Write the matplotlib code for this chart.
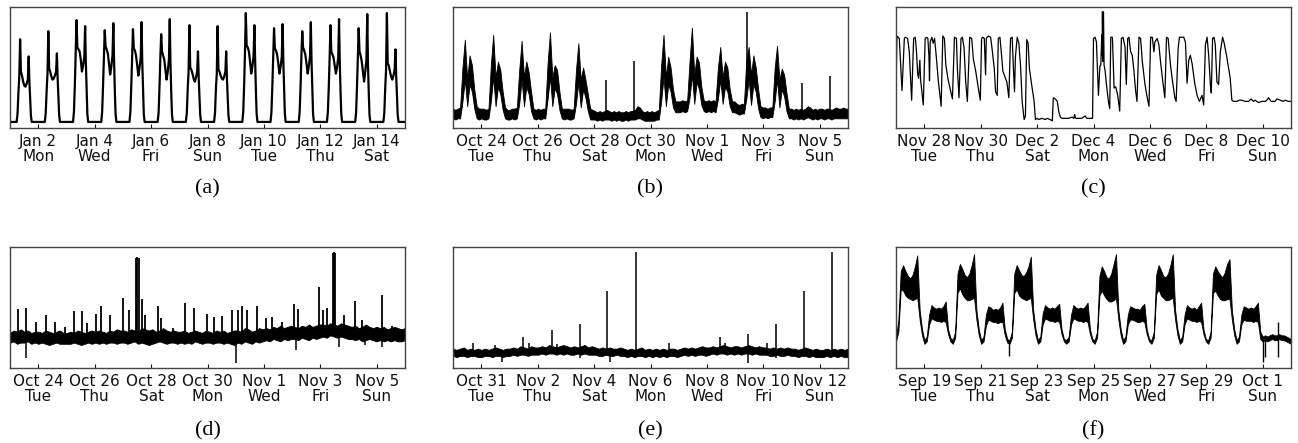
import numpy as np
import matplotlib
matplotlib.use("Agg")
import matplotlib.pyplot as plt
import matplotlib.dates as mdates
from matplotlib.ticker import FuncFormatter

# ---------------- data (0-100 = axis height) ----------------

# (a) one hump per day, knots at these hours of the day
A_START = "2017-01-01"
A_HOURS = [0, 5.6, 6.4, 7.2, 7.9, 8.6, 9.3, 10.2, 11.2, 12.2, 13.2, 14.2, 15.2, 15.9, 16.5, 17.2, 17.8, 18.5]
A_DAYS = [
    [0, 0, 8, 30, 45, 82, 50, 46, 40, 36, 35, 38, 42, 65, 40, 22, 6, 0],
    [0, 0, 9, 32, 48, 90, 53, 50, 45, 42, 43, 46, 50, 68, 44, 24, 7, 0],
    [0, 0, 10, 38, 68, 101, 74, 72, 70, 62, 50, 56, 64, 95, 60, 30, 8, 0],
    [0, 0, 10, 38, 66, 91, 75, 72, 68, 58, 47, 55, 66, 98, 62, 30, 8, 0],
    [0, 0, 10, 37, 66, 92, 73, 71, 66, 56, 46, 54, 64, 99, 60, 30, 8, 0],
    [0, 0, 9, 36, 64, 87, 70, 66, 62, 52, 42, 50, 62, 102, 58, 28, 7, 0],
    [0, 0, 9, 34, 50, 96, 54, 52, 48, 43, 40, 44, 50, 70, 44, 24, 7, 0],
    [0, 0, 9, 34, 48, 95, 52, 50, 46, 43, 42, 45, 50, 70, 44, 24, 7, 0],
    [0, 0, 10, 38, 70, 108, 76, 74, 70, 60, 48, 55, 66, 96, 62, 30, 8, 0],
    [0, 0, 10, 37, 66, 93, 73, 71, 67, 58, 48, 55, 65, 97, 60, 30, 8, 0],
    [0, 0, 10, 37, 66, 90, 74, 71, 67, 58, 48, 55, 65, 99, 60, 30, 8, 0],
    [0, 0, 10, 36, 64, 96, 70, 67, 64, 56, 48, 54, 64, 102, 60, 29, 8, 0],
    [0, 0, 9, 36, 64, 93, 70, 66, 60, 50, 40, 50, 62, 107, 58, 28, 7, 0],
    [0, 0, 9, 34, 52, 108, 58, 56, 50, 45, 42, 46, 52, 72, 46, 25, 7, 0],
]

# (b) upper / lower edge of the noisy trace, 2-hour steps
B_START = "2017-10-23"
B_HI = [
    [16, 15, 16, 17, 50, 73, 40, 60, 52, 32, 18, 16],
    [16, 16, 15, 16, 52, 77, 42, 55, 48, 30, 17, 15],
    [15, 16, 16, 17, 48, 72, 42, 55, 46, 30, 16, 15],
    [16, 15, 16, 16, 54, 79, 42, 52, 48, 30, 16, 16],
    [16, 16, 15, 16, 48, 70, 40, 50, 40, 28, 16, 15],
    [14, 13, 14, 13, 14, 15, 14, 13, 14, 13, 14, 13],
    [13, 14, 13, 14, 14, 15, 18, 17, 14, 13, 14, 13],
    [14, 13, 14, 15, 52, 77, 42, 59, 50, 32, 22, 22],
    [22, 23, 22, 23, 55, 83, 44, 59, 54, 34, 23, 22],
    [23, 22, 23, 22, 50, 67, 42, 55, 50, 32, 22, 22],
    [20, 19, 20, 20, 56, 67, 44, 60, 50, 32, 18, 17],
    [17, 16, 17, 17, 50, 68, 40, 49, 44, 29, 16, 16],
    [15, 16, 15, 16, 15, 16, 18, 17, 15, 16, 15, 16],
    [16, 15, 16, 16, 15, 16, 17, 16, 16, 17, 16, 16],
]
B_LO = [
    [8, 7, 8, 8, 22, 40, 18, 36, 30, 16, 8, 7],
    [8, 7, 7, 8, 22, 42, 18, 34, 28, 15, 8, 7],
    [7, 8, 7, 8, 20, 40, 18, 34, 28, 14, 8, 7],
    [8, 7, 8, 8, 24, 42, 18, 33, 28, 15, 8, 7],
    [8, 7, 7, 8, 20, 38, 17, 32, 25, 14, 7, 7],
    [7, 6, 7, 6, 7, 7, 7, 6, 7, 6, 7, 6],
    [6, 7, 6, 7, 7, 7, 8, 8, 7, 6, 6, 6],
    [6, 6, 7, 7, 22, 42, 18, 36, 30, 17, 13, 13],
    [13, 14, 13, 14, 25, 44, 20, 38, 32, 19, 14, 13],
    [14, 13, 14, 13, 24, 40, 20, 34, 30, 18, 13, 13],
    [12, 11, 12, 12, 24, 40, 19, 36, 30, 16, 9, 8],
    [9, 8, 9, 9, 22, 40, 17, 32, 26, 14, 8, 8],
    [7, 8, 7, 8, 7, 8, 9, 8, 7, 8, 7, 8],
    [8, 7, 8, 8, 7, 8, 8, 8, 8, 8, 8, 8],
]
B_SPIKE_T = [129.9, 153.6, 250.4, 297.0, 321.0]
B_SPIKE_V = [40, 55, 96, 37, 43]

# (c) thin trace, hours since start
C_START = "2017-11-27"
C_HOURS = [
    0.0, 0.8, 2.8, 5.1, 7.1, 7.9, 9.9, 11.3, 13.3, 15.0, 16.4, 17.5, 18.4, 19.2, 19.8, 20.3, 20.9, 23.2,
    24.8, 26.0, 27.1, 28.0, 28.5, 29.1, 30.5, 31.6, 32.8, 33.9, 36.1, 38.4, 39.8, 41.2, 42.4, 44.3, 46.6,
    48.0, 49.7, 51.4, 52.2, 53.6, 55.3, 56.5, 57.9, 59.3, 60.7, 62.7, 64.4, 65.8, 67.8, 70.0, 71.7,
    72.8, 74.0, 75.1, 76.2, 76.8, 78.5, 80.5, 81.9, 83.6, 84.7, 86.1, 87.0, 88.4, 89.8, 90.9, 93.2, 94.3,
    96.0, 97.4, 98.8, 99.9, 100.8, 101.6, 103.1, 104.5, 105.9, 107.3, 109.0, 110.1, 111.2, 112.4, 113.5, 115.8, 117.5, 118.6,
    120.0, 121.4, 124.2, 127.1, 128.5, 131.0, 133.0, 133.8, 135.5, 137.2, 138.4, 139.8, 141.2,
    144.0, 146.8, 149.6, 151.3, 151.9, 152.5, 153.0, 158.1, 160.9, 161.5, 162.4, 163.8, 166.0, 167.2,
    168.0, 169.4, 170.5, 172.2, 173.4, 174.2, 175.1, 175.4, 175.6, 175.9, 176.2, 176.5, 177.0, 177.9, 179.0,
    180.7, 181.8, 182.7, 184.1, 185.5, 186.9, 188.6, 190.3, 191.7,
    193.1, 194.8, 195.9, 197.1, 198.2, 199.6, 201.0, 202.4, 203.9, 205.0, 206.7, 208.1, 209.5, 211.8, 213.7, 215.2,
    216.6, 218.0, 219.4, 220.2, 222.2, 223.6, 225.0, 227.0, 228.7, 230.1, 231.5, 233.5, 234.9, 237.2, 238.3,
    240.0, 241.1, 244.8, 246.2, 247.6, 249.0, 250.4, 251.9, 254.1, 256.1, 258.1, 260.3, 261.7, 263.2,
    264.6, 266.0, 267.4, 268.2, 269.3, 270.5, 271.6, 273.0, 274.4, 275.9, 277.8, 279.2, 281.5, 284.3, 285.7, 287.2,
    290.0, 292.0, 294.2, 297.0, 299.9, 302.0, 304.1, 305.5, 308.3, 311.2, 314.0, 315.5, 316.8, 319.1, 322.4,
    324.0, 326.7, 329.5, 331.0, 333.7, 336.0,
]
C_VALUES = [
    31, 76, 74, 31, 74, 75, 74, 63, 23, 74, 75, 62, 45, 41, 49, 56, 40, 19,
    74, 75, 74, 60, 39, 71, 75, 70, 74, 63, 38, 18, 76, 74, 52, 40, 30,
    24, 75, 74, 49, 25, 74, 75, 66, 38, 22, 75, 74, 57, 47, 33, 23,
    74, 75, 74, 44, 74, 76, 75, 64, 49, 30, 27, 74, 75, 60, 47, 41, 38,
    25, 74, 75, 49, 30, 59, 75, 70, 52, 22, 7, 10, 73, 70, 49, 33, 22, 7,
    8, 7, 8, 7, 8, 7, 6, 25, 24, 22, 14, 9, 8,
    8, 8, 9, 8, 11, 9, 8, 8, 10, 9, 8, 8, 8, 8,
    74, 75, 71, 27, 51, 52, 77, 60, 96, 55, 92, 96, 52, 47, 36,
    22, 16, 75, 75, 33, 34, 27, 14, 74,
    75, 67, 36, 74, 75, 63, 60, 47, 30, 22, 75, 74, 55, 36, 25, 18,
    75, 75, 63, 71, 74, 69, 55, 38, 25, 75, 74, 52, 41, 25, 22,
    66, 75, 75, 71, 37, 56, 60, 53, 37, 27, 22, 27, 19, 69,
    75, 60, 36, 29, 74, 75, 69, 38, 36, 63, 75, 70, 58, 41, 23, 22,
    22, 23, 23, 22, 22, 24, 22, 23, 21, 22, 22, 23, 25, 22, 22,
    24, 23, 22, 23, 22, 22,
]

# (d) noisy band, 3-hour steps, plus short spikes
D_START = "2017-10-23"
D_HI = [
    [29, 31, 30, 32, 30, 31, 29, 30], [30, 29, 31, 30, 29, 30, 31, 29],
    [29, 30, 29, 31, 30, 29, 30, 31], [30, 31, 30, 29, 31, 30, 32, 31],
    [31, 30, 32, 31, 30, 33, 32, 31], [32, 30, 31, 33, 31, 30, 31, 30],
    [30, 31, 29, 30, 31, 30, 29, 31], [30, 29, 31, 30, 31, 29, 30, 31],
    [31, 30, 33, 32, 30, 31, 33, 32], [33, 32, 34, 33, 35, 33, 34, 35],
    [34, 33, 35, 34, 36, 34, 35, 36], [36, 35, 37, 36, 35, 37, 36, 35],
    [34, 35, 33, 34, 36, 34, 33, 34], [33, 34, 32, 33, 34, 33, 32, 33],
]
D_LO = [
    [21, 22, 20, 21, 21, 22, 20, 21], [20, 21, 20, 19, 20, 21, 20, 20],
    [20, 20, 21, 20, 19, 20, 21, 20], [21, 20, 21, 20, 21, 21, 20, 21],
    [21, 20, 21, 22, 20, 21, 20, 19], [20, 21, 22, 21, 20, 21, 21, 20],
    [21, 20, 21, 20, 22, 21, 20, 21], [21, 20, 21, 21, 20, 21, 20, 19],
    [21, 20, 22, 21, 20, 22, 21, 22], [23, 22, 24, 23, 22, 24, 23, 24],
    [24, 23, 25, 24, 23, 25, 24, 25], [26, 25, 27, 26, 25, 26, 25, 24],
    [24, 23, 24, 22, 23, 24, 23, 22], [23, 22, 23, 22, 23, 22, 22, 23],
]
D_SPIKE_T = [6.5, 13.6, 22.0, 30.5, 38.1, 46.6, 54.2, 61.6, 65.8, 72.9,
             77.6, 84.7, 96.0, 101.6, 107.3, 108.4, 109.6, 112.4, 114.9, 125.6,
             128.5, 138.4, 149.1, 156.7, 167.2, 173.7, 180.2, 189.2, 194.3, 197.7,
             201.9, 210.4, 217.4, 222.5, 231.5, 241.4, 245.1, 262.6, 266.0, 269.7,
             274.5, 275.6, 276.8, 283.8, 293.7, 299.3, 316.8, 324.7]
D_SPIKE_V = [49, 50, 38, 44, 38, 34, 47, 47, 37, 45,
             51, 44, 58, 48, 91, 92, 91, 57, 44, 51,
             41, 33, 54, 50, 45, 42, 43, 48, 48, 51,
             48, 51, 41, 42, 38, 53, 49, 67, 48, 50,
             95, 96, 95, 44, 55, 40, 60, 35]
D_DIP_T = [13.6, 192.0, 243.4, 279.6, 302.2, 316.8]
D_DIP_V = [8, 4, 15, 17, 19, 17]

# (e) flat noisy band, 3-hour steps, with isolated spikes
E_START = "2017-10-30"
E_HI = [
    [16, 15, 16, 17, 15, 16, 15, 16], [15, 16, 15, 16, 17, 16, 15, 16],
    [16, 17, 16, 18, 17, 16, 18, 17], [17, 18, 17, 19, 18, 17, 18, 19],
    [18, 17, 18, 17, 18, 19, 17, 18], [17, 16, 17, 16, 17, 16, 16, 17],
    [16, 15, 16, 15, 16, 17, 15, 16], [15, 16, 15, 16, 15, 16, 16, 15],
    [16, 17, 16, 17, 16, 17, 18, 17], [17, 18, 17, 18, 19, 18, 17, 18],
    [18, 17, 18, 19, 18, 17, 18, 17], [17, 16, 17, 16, 17, 16, 17, 16],
    [16, 15, 16, 17, 16, 15, 16, 15], [15, 16, 15, 16, 15, 16, 15, 16],
]
E_LO = [
    [10, 9, 10, 10, 9, 10, 10, 9], [9, 10, 10, 9, 10, 10, 9, 10],
    [10, 11, 10, 11, 11, 10, 11, 11], [11, 12, 11, 12, 12, 11, 12, 11],
    [12, 11, 11, 12, 11, 12, 11, 11], [11, 10, 10, 11, 10, 10, 11, 10],
    [10, 9, 10, 9, 10, 10, 9, 10], [9, 10, 9, 10, 9, 10, 10, 9],
    [10, 11, 10, 11, 10, 11, 11, 10], [11, 12, 11, 12, 12, 11, 12, 11],
    [12, 11, 12, 12, 11, 12, 11, 11], [11, 10, 10, 11, 10, 10, 11, 10],
    [10, 9, 10, 10, 9, 10, 9, 9], [9, 10, 9, 10, 9, 10, 9, 9],
]
E_SPIKE_T = [16.9, 35.9, 59.9, 64.9, 83.9, 88.7, 107.9, 131.3, 155.3, 184.1,
             227.0, 231.5, 251.0, 267.4, 274.4, 298.4, 322.4]
E_SPIKE_V = [21, 19, 26, 21, 31, 20, 36, 64, 96, 21, 26, 21, 28, 21, 36, 64, 96]
E_DIP_T = [42.1, 107.9, 133.3, 251.0, 274.4]
E_DIP_V = [5, 8, 5, 4, 8]

# (f) two-level daily pattern, 2-hour steps
F_START = "2017-09-18"
F_HI = [
    [25, 40, 80, 85, 80, 76, 74, 77, 84, 93, 48, 32],
    [23, 26, 44, 52, 50, 49, 50, 49, 51, 55, 32, 25],
    [23, 30, 78, 86, 82, 77, 75, 78, 85, 94, 48, 32],
    [23, 26, 44, 51, 50, 48, 49, 48, 50, 54, 32, 24],
    [23, 30, 78, 85, 81, 77, 76, 79, 84, 92, 48, 32],
    [23, 26, 45, 52, 50, 49, 50, 49, 51, 53, 32, 24],
    [23, 26, 44, 52, 50, 49, 50, 49, 51, 54, 32, 24],
    [23, 30, 76, 84, 80, 75, 74, 78, 86, 94, 48, 32],
    [23, 26, 44, 51, 50, 49, 49, 48, 51, 53, 32, 24],
    [23, 30, 77, 85, 81, 76, 75, 78, 85, 94, 48, 32],
    [23, 26, 44, 52, 50, 49, 50, 48, 51, 54, 32, 24],
    [23, 30, 78, 84, 80, 77, 75, 79, 86, 90, 48, 32],
    [23, 26, 44, 51, 50, 49, 50, 49, 51, 54, 30, 26],
    [27, 26, 27, 28, 27, 27, 28, 27, 27, 26, 25, 24],
]
F_LO = [
    [22, 30, 65, 64, 60, 58, 57, 56, 57, 58, 40, 27],
    [20, 22, 36, 41, 40, 39, 39, 38, 39, 38, 28, 22],
    [20, 25, 62, 66, 61, 58, 56, 56, 57, 58, 40, 27],
    [20, 22, 35, 40, 39, 38, 38, 37, 38, 38, 27, 21],
    [20, 25, 62, 65, 60, 58, 57, 56, 57, 58, 40, 27],
    [20, 22, 36, 41, 40, 39, 39, 38, 39, 38, 28, 22],
    [20, 22, 36, 41, 40, 39, 39, 38, 39, 38, 28, 22],
    [20, 25, 60, 64, 60, 57, 55, 55, 56, 58, 40, 27],
    [20, 22, 36, 40, 40, 39, 38, 38, 39, 38, 28, 22],
    [20, 25, 61, 65, 60, 58, 56, 56, 57, 58, 40, 27],
    [20, 22, 36, 41, 40, 39, 39, 38, 39, 38, 28, 22],
    [20, 25, 62, 64, 60, 57, 56, 56, 57, 57, 40, 27],
    [20, 22, 36, 40, 39, 39, 39, 38, 39, 38, 24, 22],
    [23, 22, 23, 24, 23, 23, 24, 23, 23, 22, 21, 20],
]
F_SPIKE_T = [324.7]
F_SPIKE_V = [38]
F_DIP_T = [96.0, 312.6, 314.0, 324.7]
F_DIP_V = [10, 5, 9, 9]

CAPTIONS = ["(a)", "(b)", "(c)", "(d)", "(e)", "(f)"]


# ---------------- helpers ----------------
def to_time(start, hours):
    mins = np.round(np.asarray(hours, dtype=float) * 60).astype(int)
    return np.datetime64(start + "T00:00") + mins.astype("timedelta64[m]")


def day_label(x, pos):
    d = mdates.num2date(x)
    return f"{d:%b} {d.day}\n{d:%a}"


def style_axis(ax, start, ylim=(0, 100)):
    t0 = np.datetime64(start + "T00:00")
    ax.set_xlim(t0, t0 + np.timedelta64(14, "D"))
    ax.set_xticks([t0 + np.timedelta64(1 + 2 * k, "D") for k in range(7)])
    ax.xaxis.set_major_formatter(FuncFormatter(day_label))
    ax.set_yticks([])
    ax.set_ylim(*ylim)
    ax.tick_params(axis="x", direction="in", length=3, width=0.8, pad=4,
                   labelsize=11, colors="#111111")
    for lab in ax.get_xticklabels():
        lab.set_linespacing(1.0)
    for s in ax.spines.values():
        s.set_color("#444444")
        s.set_linewidth(1.0)


def band(ax, start, hi, lo):
    hi = np.ravel(hi)
    lo = np.ravel(lo)
    hrs = np.linspace(0, 336, len(hi))
    t = to_time(start, hrs)
    ax.fill_between(t, lo, hi, color="black", linewidth=0.6)
    return hrs, (hi + lo) / 2.0


def spikes(ax, start, hrs, mid, st, sv, lw=1.0):
    if not st:
        return
    base = np.interp(st, hrs, mid)
    ax.vlines(to_time(start, st), base, sv, color="black", linewidth=lw)


# ---------------- figure ----------------
fig = plt.figure(figsize=(12.98, 4.43), dpi=100)
W, H = 1298.0, 443.0
lefts = [10, 453, 896]
tops = [7, 247]
axes = []
for r in range(2):
    for c in range(3):
        ax = fig.add_axes([lefts[c] / W, 1 - (tops[r] + 121) / H, 395 / W, 121 / H])
        axes.append(ax)

# (a)
a_hours, a_vals = [], []
for d, vals in enumerate(A_DAYS):
    for h, v in zip(A_HOURS, vals):
        a_hours.append(24 * d + h)
        a_vals.append(v)
a_hours.append(336)
a_vals.append(0)
axes[0].plot(to_time(A_START, a_hours), a_vals, color="black", linewidth=1.6)
style_axis(axes[0], A_START, ylim=(-6, 114))

# (b)
hrs, mid = band(axes[1], B_START, B_HI, B_LO)
spikes(axes[1], B_START, hrs, mid, B_SPIKE_T, B_SPIKE_V, lw=1.1)
style_axis(axes[1], B_START)

# (c)
axes[2].plot(to_time(C_START, C_HOURS), C_VALUES, color="black", linewidth=0.9)
style_axis(axes[2], C_START)

# (d)
hrs, mid = band(axes[3], D_START, D_HI, D_LO)
spikes(axes[3], D_START, hrs, mid, D_SPIKE_T, D_SPIKE_V, lw=1.3)
spikes(axes[3], D_START, hrs, mid, D_DIP_T, D_DIP_V, lw=1.1)
style_axis(axes[3], D_START)

# (e)
hrs, mid = band(axes[4], E_START, E_HI, E_LO)
spikes(axes[4], E_START, hrs, mid, E_SPIKE_T, E_SPIKE_V, lw=1.1)
spikes(axes[4], E_START, hrs, mid, E_DIP_T, E_DIP_V, lw=1.1)
style_axis(axes[4], E_START)

# (f)
hrs, mid = band(axes[5], F_START, F_HI, F_LO)
spikes(axes[5], F_START, hrs, mid, F_SPIKE_T, F_SPIKE_V, lw=1.0)
spikes(axes[5], F_START, hrs, mid, F_DIP_T, F_DIP_V, lw=1.0)
style_axis(axes[5], F_START)

# captions under each panel
cap_y = [1 - 189 / H, 1 - 431 / H]
for i, cap in enumerate(CAPTIONS):
    r, c = divmod(i, 3)
    fig.text((lefts[c] + 197.5) / W, cap_y[r], cap, ha="center", va="center",
             fontsize=16, family="Liberation Serif")

fig.savefig("out.png", dpi=100)
